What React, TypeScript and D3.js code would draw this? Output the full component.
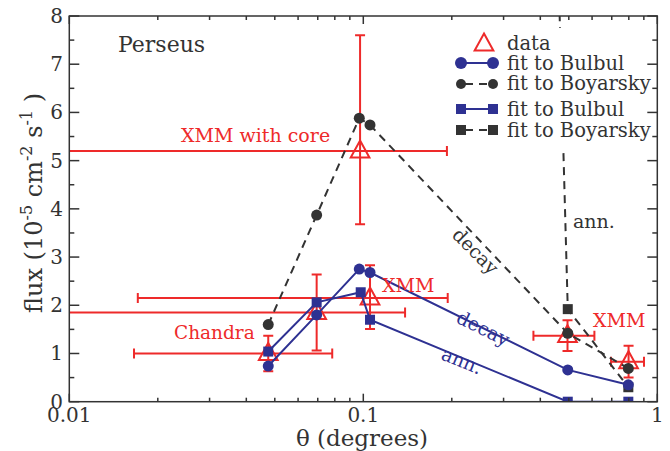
import React from "react";
import * as d3 from "d3";

// Measured fluxes (units 1e-5 cm^-2 s^-1) with errors
const dataTheta = [0.0475, 0.0694, 0.0975, 0.1054, 0.495, 0.7985];
const dataFlux = [1.0, 1.85, 5.2, 2.15, 1.37, 0.83];
const dataThetaErr = [0.0309, 0.0693, 0.095, 0.0883, 0.116, 0.1025];
const dataFluxErrUp = [0.37, 0.79, 2.4, 0.68, 0.32, 0.33];
const dataFluxErrDown = [0.37, 0.79, 1.52, 0.64, 0.32, 0.33];

// Model predictions
const fitTheta = [0.0475, 0.0694, 0.0969, 0.1054, 0.496, 0.797];
const bulbulDecay = [0.74, 1.8, 2.75, 2.68, 0.66, 0.35];
const boyarskyDecay = [1.6, 3.87, 5.88, 5.74, 1.42, 0.69];
const annTheta = [0.0475, 0.0694, 0.098, 0.1054, 0.496, 0.797];
const bulbulAnn = [1.04, 2.06, 2.27, 1.7, 0.0, 0.0];
const boyarskyAnnTheta = [0.1054, 0.496, 0.797];
const boyarskyAnn = [150, 1.92, 0.3];

const xTicksMajor = [0.01, 0.1, 1];
const xTickLabels = ["0.01", "0.1", "1"];
const yTicksMajor = [0, 1, 2, 3, 4, 5, 6, 7, 8];

const RED = "#ee2a2a";
const BLUE = "#2e3192";
const DARK = "#333333";
const FONT = "DejaVu Serif, serif";

const W = 670;
const H = 451;
const L = 69.3;
const R = 657.3;
const T = 16;
const B = 401.7;

export default function App() {
  const x = d3.scaleLog().domain([0.01, 1]).range([L, R]);
  const y = d3.scaleLinear().domain([0, 8]).range([B, T]);

  const minorX: number[] = [];
  [0.01, 0.1].forEach((d) => {
    for (let k = 2; k <= 9; k++) minorX.push(d * k);
  });
  const minorY = d3.range(0.5, 8, 1);

  const line = (xs: number[], ys: number[]) =>
    d3.line<number>()
      .x((_, i) => x(xs[i]))
      .y((v) => y(v))(ys) as string;

  const tri = (cx: number, cy: number, s: number) =>
    `M${cx},${cy - s * 0.62} L${cx + s * 0.55},${cy + s * 0.38} L${cx - s * 0.55},${cy + s * 0.38} Z`;

  const sq = 10;

  return (
    <svg width={W} height={H} style={{ position: "absolute", left: 0, top: 0 }} fontFamily={FONT}>
      <defs>
        <clipPath id="plotArea">
          <rect x={L} y={T} width={R - L} height={B - T} />
        </clipPath>
      </defs>
      <rect width={W} height={H} fill="#fff" />

      {/* measured data with error bars */}
      <g clipPath="url(#plotArea)" stroke={RED} strokeWidth={2} fill="none">
        {dataTheta.map((t, i) => {
          const x0 = x(Math.max(t - dataThetaErr[i], 0.001));
          const x1 = x(t + dataThetaErr[i]);
          const yc = y(dataFlux[i]);
          const y0 = y(dataFlux[i] - dataFluxErrDown[i]);
          const y1 = y(dataFlux[i] + dataFluxErrUp[i]);
          const xc = x(t);
          return (
            <g key={i}>
              <line x1={x0} x2={x1} y1={yc} y2={yc} />
              <line x1={x0} x2={x0} y1={yc - 5} y2={yc + 5} />
              <line x1={x1} x2={x1} y1={yc - 5} y2={yc + 5} />
              <line x1={xc} x2={xc} y1={y0} y2={y1} />
              <line x1={xc - 5} x2={xc + 5} y1={y0} y2={y0} />
              <line x1={xc - 5} x2={xc + 5} y1={y1} y2={y1} />
              <path d={tri(xc, yc, 17)} />
            </g>
          );
        })}
      </g>

      {/* model curves */}
      <g clipPath="url(#plotArea)" fill="none" strokeWidth={2}>
        <path d={line(fitTheta, boyarskyDecay)} stroke={DARK} strokeDasharray="8,6" />
        <path d={line(boyarskyAnnTheta, boyarskyAnn)} stroke={DARK} strokeDasharray="8,6" />
        <path d={line(fitTheta, bulbulDecay)} stroke={BLUE} />
        <path d={line(annTheta, bulbulAnn)} stroke={BLUE} />
      </g>
      <g clipPath="url(#plotArea)">
        {fitTheta.map((t, i) => (
          <circle key={"bd" + i} cx={x(t)} cy={y(boyarskyDecay[i])} r={5.5} fill={DARK} />
        ))}
        {boyarskyAnnTheta.map((t, i) =>
          boyarskyAnn[i] <= 8 ? (
            <rect key={"ba" + i} x={x(t) - sq / 2} y={y(boyarskyAnn[i]) - sq / 2} width={sq} height={sq} fill={DARK} />
          ) : null
        )}
        {fitTheta.map((t, i) => (
          <circle key={"bu" + i} cx={x(t)} cy={y(bulbulDecay[i])} r={5.5} fill={BLUE} />
        ))}
        {annTheta.map((t, i) => (
          <rect key={"ua" + i} x={x(t) - sq / 2} y={y(bulbulAnn[i]) - sq / 2} width={sq} height={sq} fill={BLUE} />
        ))}
      </g>

      {/* legend */}
      <g fontSize={19.5} fill={DARK}>
        <rect x={455} y={28} width={200} height={122} fill="#fff" />
        <path d={tri(484, 44, 17)} fill="none" stroke={RED} strokeWidth={2} />
        <text x={507} y={50}>data</text>

        <line x1={461} x2={493} y1={63} y2={63} stroke={BLUE} strokeWidth={2} />
        <circle cx={461} cy={63} r={6} fill={BLUE} />
        <circle cx={493} cy={63} r={6} fill={BLUE} />
        <text x={507} y={69.5}>fit to Bulbul</text>

        <line x1={461} x2={493} y1={84} y2={84} stroke={DARK} strokeWidth={2} strokeDasharray="8,6" strokeDashoffset={-4} />
        <circle cx={461} cy={84} r={5} fill={DARK} />
        <circle cx={493} cy={84} r={5} fill={DARK} />
        <text x={507} y={90}>fit to Boyarsky</text>

        <line x1={461} x2={493} y1={109} y2={109} stroke={BLUE} strokeWidth={2} />
        <rect x={456} y={104} width={10} height={10} fill={BLUE} />
        <rect x={488} y={104} width={10} height={10} fill={BLUE} />
        <text x={507} y={116}>fit to Bulbul</text>

        <line x1={461} x2={493} y1={130} y2={130} stroke={DARK} strokeWidth={2} strokeDasharray="8,6" strokeDashoffset={-4} />
        <rect x={456} y={125} width={10} height={10} fill={DARK} />
        <rect x={488} y={125} width={10} height={10} fill={DARK} />
        <text x={507} y={136.5}>fit to Boyarsky</text>
      </g>

      {/* frame and ticks */}
      <g stroke={DARK} strokeWidth={1.5} fill="none">
        <rect x={L} y={T} width={R - L} height={B - T} />
        {xTicksMajor.map((t) => (
          <g key={"xM" + t}>
            <line x1={x(t)} x2={x(t)} y1={B} y2={B - 8} />
            <line x1={x(t)} x2={x(t)} y1={T} y2={T + 8} />
          </g>
        ))}
        {minorX.map((t) => (
          <g key={"xm" + t}>
            <line x1={x(t)} x2={x(t)} y1={B} y2={B - 4} />
            <line x1={x(t)} x2={x(t)} y1={T} y2={T + 4} />
          </g>
        ))}
        {yTicksMajor.map((v) => (
          <g key={"yM" + v}>
            <line x1={L} x2={L + 10} y1={y(v)} y2={y(v)} />
            <line x1={R} x2={R - 10} y1={y(v)} y2={y(v)} />
          </g>
        ))}
        {minorY.map((v) => (
          <g key={"ym" + v}>
            <line x1={L} x2={L + 5} y1={y(v)} y2={y(v)} />
            <line x1={R} x2={R - 5} y1={y(v)} y2={y(v)} />
          </g>
        ))}
      </g>

      {/* tick labels */}
      <g fontSize={20} fill={DARK}>
        {yTicksMajor.map((v) => (
          <text key={"yl" + v} x={63} y={y(v) + 7} textAnchor="end">{v}</text>
        ))}
        {xTicksMajor.map((t, i) => (
          <text key={"xl" + t} x={x(t)} y={422} textAnchor="middle">{xTickLabels[i]}</text>
        ))}
      </g>

      {/* axis titles */}
      <text x={362} y={446} textAnchor="middle" fontSize={23} fill={DARK}>θ (degrees)</text>
      <text
        transform="translate(42,203) rotate(-90)"
        textAnchor="middle"
        fontSize={24}
        fill={DARK}
      >
        flux (10<tspan dy={-10} fontSize={16}>-5</tspan>
        <tspan dy={10}> cm</tspan>
        <tspan dy={-10} fontSize={16}>-2</tspan>
        <tspan dy={10}> s</tspan>
        <tspan dy={-10} fontSize={16}>-1</tspan>
        <tspan dy={10}> )</tspan>
      </text>

      {/* annotations */}
      <g fontSize={19}>
        <text x={118} y={52} fill={DARK} fontSize={22}>Perseus</text>
        <text x={181} y={141.5} fill={RED}>XMM with core</text>
        <text x={174} y={339} fill={RED} fontSize={18.5}>Chandra</text>
        <text x={382} y={291.5} fill={RED}>XMM</text>
        <text x={593} y={326.5} fill={RED}>XMM</text>
        <text x={573} y={228} fill={DARK}>ann.</text>
        <text transform="translate(451,236) rotate(45)" fill={DARK}>decay</text>
        <text transform="translate(455,322) rotate(26)" fill={BLUE}>decay</text>
        <text transform="translate(440,359) rotate(22)" fill={BLUE}>ann.</text>
      </g>
    </svg>
  );
}
